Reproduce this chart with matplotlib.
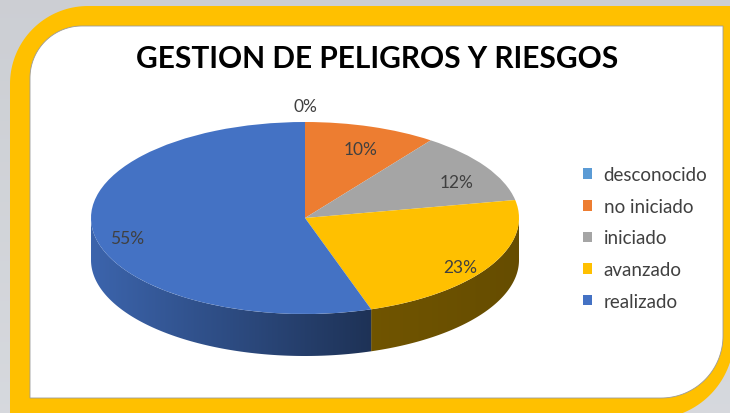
import numpy as np
import matplotlib.pyplot as plt
from matplotlib.patches import Polygon
from matplotlib.colors import to_rgb

# Datos del gráfico
categorias = ['desconocido', 'no iniciado', 'iniciado', 'avanzado', 'realizado']
porcentajes = [0, 10, 12, 23, 55]
colores = ['#5B9BD5', '#ED7D31', '#A5A5A5', '#FFC000', '#4472C4']
titulo = 'GESTION DE PELIGROS Y RIESGOS'

plt.rcParams['font.family'] = ['Lato', 'DejaVu Sans']

W, H = 730, 414
fig = plt.figure(figsize=(W / 100, H / 100), dpi=100)

# Fondo y marco (coordenadas en pixeles)
bg = fig.add_axes([0, 0, 1, 1])
bg.set_xlim(0, W)
bg.set_ylim(H, 0)
bg.axis('off')
grad = np.linspace(0.80, 0.84, 256).reshape(-1, 1)
bg.imshow(np.dstack([grad, grad + 0.01, grad + 0.03]), extent=(0, W, H, 0),
          aspect='auto', zorder=0)


def marco(x0, y0, x1, y1, r_tl, r_br, n=40):
    # rectangulo con esquinas redondeadas arriba-izquierda y abajo-derecha
    t = np.linspace(0, np.pi / 2, n)
    pts = [(x1, y0)]
    pts += list(zip(x1 - r_br + r_br * np.cos(t), y1 - r_br + r_br * np.sin(t)))
    pts += [(x0, y1)]
    pts += list(zip(x0 + r_tl - r_tl * np.cos(t), y0 + r_tl - r_tl * np.sin(t)))
    return Polygon(pts, closed=True)


ext = marco(10, 7, 734, 420, 78, 82)
ext.set(facecolor='#FFC000', edgecolor='none', zorder=1)
bg.add_patch(ext)
inn = marco(30, 27, 723, 399, 52, 62)
inn.set(facecolor='white', edgecolor='#9a9a9a', linewidth=0.6, zorder=2)
bg.add_patch(inn)

bg.text(377, 59, titulo, ha='center', va='center', fontsize=21.5,
        fontweight='bold', color='black', zorder=3)

# Pastel 3D
cx, cy, a, b, prof = 305, 219, 214, 96, 42
d = prof / b
ax = fig.add_axes([(cx - a) / W, (H - (cy + b + prof)) / H,
                   2 * a / W, (2 * b + prof) / H])
wedges, _ = ax.pie(porcentajes, colors=colores, startangle=90, counterclock=False,
                   radius=1, wedgeprops=dict(linewidth=0))
ax.set_aspect('auto')
ax.set_xlim(-1, 1)
ax.set_ylim(-1 - d, 1)
ax.axis('off')


def sombra(x):
    return np.interp(x, [-1, 0.31, 1], [0.88, 0.44, 0.40])


for w, c in zip(wedges, colores):
    t1, t2 = w.theta1, w.theta2
    for k in (-360, 0, 360):
        lo, hi = max(t1 + k, 180), min(t2 + k, 360)
        if hi <= lo:
            continue
        th = np.radians(np.linspace(lo, hi, 120))
        xs, ys = np.cos(th), np.sin(th)
        pts = np.r_[np.c_[xs, ys], np.c_[xs[::-1], ys[::-1] - d]]
        poly = Polygon(pts, closed=True, facecolor='none', edgecolor='none')
        ax.add_patch(poly)
        gx = np.linspace(xs.min(), xs.max(), 200)
        rgb = np.array(to_rgb(c))[None, None, :] * sombra(gx)[None, :, None]
        im = ax.imshow(rgb, extent=(gx[0], gx[-1], -1 - d, 0.2), aspect='auto',
                       zorder=0.5, interpolation='bilinear')
        im.set_clip_path(poly)

# Etiquetas de porcentaje
for w, v in zip(wedges, porcentajes):
    ang = np.radians((w.theta1 + w.theta2) / 2)
    r = 1.17 if v == 0 else 0.84
    ax.text(r * np.cos(ang), r * np.sin(ang) - (0 if v == 0 else 0.08), f'{v}%',
            ha='center', va='center', fontsize=12.5, color='#404040', clip_on=False)

ax.legend(wedges, categorias, loc='center left', bbox_to_anchor=(566 / W, 1 - 239 / H),
          bbox_transform=fig.transFigure, frameon=False, fontsize=13.5,
          handlelength=0.5, handleheight=0.5, handletextpad=0.6, labelspacing=0.78,
          labelcolor='#404040')

fig.savefig('out.png', dpi=100)
